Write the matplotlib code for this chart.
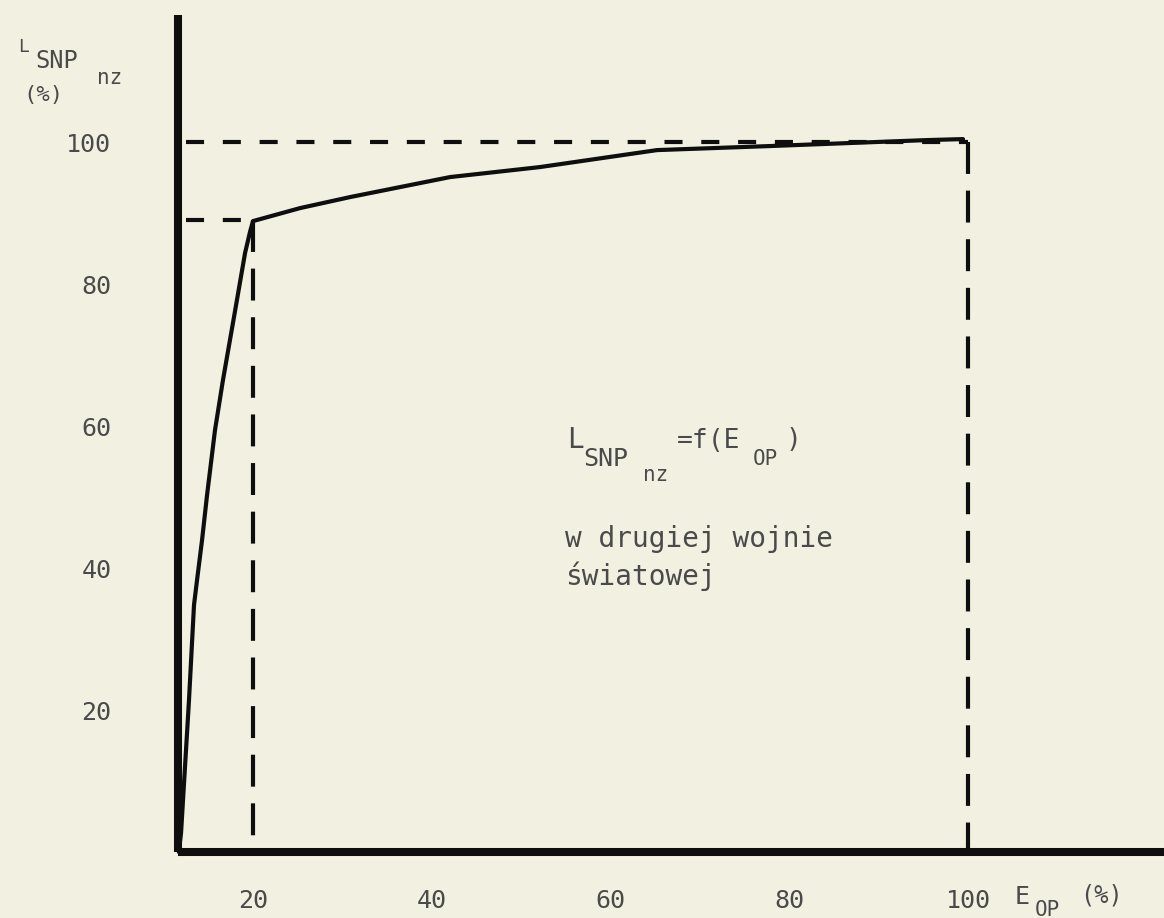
import matplotlib.pyplot as plt

plt.rcParams['lines.scale_dashes'] = False

W, H = 1164, 918
PAPER = '#f2f1e1'
INK = '#4a4a4a'
LINE = '#0e0e0e'
FONT = ['DejaVu Sans Mono']

# curve L_SNPnz = f(E_OP)
e_op = [11.7, 11.95, 12.17, 12.62, 12.84, 13.40, 13.74, 14.30, 14.86, 15.75,
        16.64, 17.99, 19.11, 19.66, 20.0, 25.26, 30.85, 42.04, 52.10, 65.19,
        77.83, 95.39, 99.42]
l_snp = [0, 2.68, 7.32, 16.76, 21.41, 34.79, 38.31, 43.94, 50.28, 59.44,
         66.48, 76.2, 84.37, 87.32, 88.87, 90.70, 92.25, 95.07, 96.48, 98.87,
         99.44, 100.28, 100.42]

knee_x, knee_y = 20, 89
full_x, full_y = 100, 100

x_ticks = [20, 40, 60, 80, 100]
x_labels = ['20', '40', '60', '80', '100']
y_ticks = [20, 40, 60, 80, 100]
y_labels = ['20', '40', '60', '80', '100']

fig = plt.figure(figsize=(W / 100, H / 100), dpi=100, facecolor=PAPER)
ax = fig.add_axes([178 / W, (H - 852) / H, 1 - 178 / W, (852 - 15) / H])
ax.set_facecolor(PAPER)
ax.set_xlim(11.61, 121.9)
ax.set_ylim(0, 117.9)

for side in ['top', 'right']:
    ax.spines[side].set_visible(False)
for side in ['left', 'bottom']:
    ax.spines[side].set_linewidth(5.8)
    ax.spines[side].set_color(LINE)
    ax.spines[side].set_capstyle('butt')

# reference dashes
ax.plot([12.5, full_x], [full_y, full_y], color=LINE, lw=3, dashes=(13, 13.5))
ax.plot([12.5, knee_x], [knee_y, knee_y], color=LINE, lw=3, dashes=(13, 13.5))
ax.plot([knee_x, knee_x], [knee_y, 0.5], color=LINE, lw=3, dashes=(23, 12))
ax.plot([full_x, full_x], [full_y, 0.5], color=LINE, lw=3, dashes=(23, 12))

ax.plot(e_op, l_snp, color=LINE, lw=3, solid_joinstyle='round',
        solid_capstyle='round', clip_on=False)

ax.set_xticks(x_ticks)
ax.set_xticklabels(x_labels)
ax.set_yticks(y_ticks)
ax.set_yticklabels(y_labels)
ax.tick_params(axis='both', length=0, labelsize=18, labelcolor=INK)
ax.tick_params(axis='x', pad=27)
ax.tick_params(axis='y', pad=48)
for t in ax.get_xticklabels() + ax.get_yticklabels():
    t.set_family(FONT)


def label(px, py, s, size, va='center'):
    fig.text(px / W, 1 - py / H, s, fontsize=size, family=FONT, color=INK,
             ha='left', va=va)


# y axis title
label(18, 47, 'L', 13)
label(35, 61, 'SNP', 17)
label(97, 78, 'nz', 15)
label(23, 95, '(%)', 16)

# x axis title
label(1015, 897, 'E', 18)
label(1035, 910, 'OP', 15)
label(1080, 896, '(%)', 17)

# annotation in the middle
label(567, 440, 'L', 20)
label(583, 459, 'SNP', 18)
label(643, 475, 'nz', 15)
label(677, 441, '=f(E', 19)
label(753, 459, 'OP', 15)
label(786, 440, ')', 19)
label(565, 547, 'w drugiej wojnie', 20, va='baseline')
label(565, 585, 'światowej', 20, va='baseline')

fig.savefig('out.png', dpi=100, facecolor=PAPER)
